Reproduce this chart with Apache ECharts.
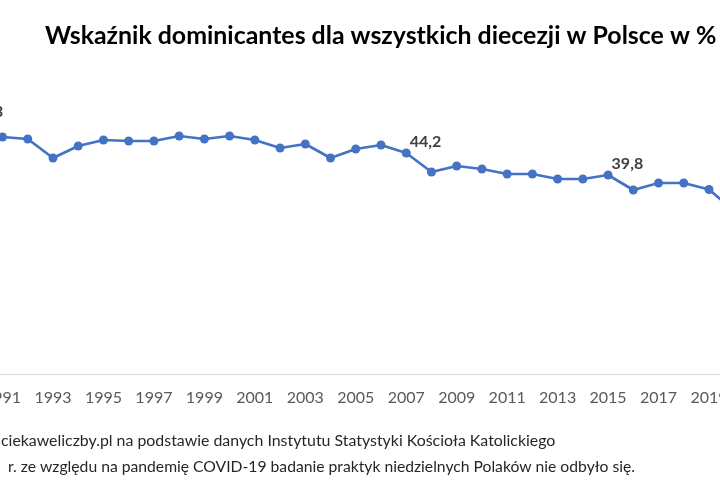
<!DOCTYPE html>
<html><head><meta charset="utf-8">
<script src="https://cdn.jsdelivr.net/npm/echarts@6/dist/echarts.min.js"></script>
<style>html,body{margin:0;padding:0;background:#fff;overflow:hidden;width:720px;height:500px;position:relative}#c{position:absolute;left:-100px;top:0;width:1000px;height:500px}</style>
</head><body><div id="c"></div>
<script>
var years = ['1990','1991','1992','1993','1994','1995','1996','1997','1998','1999','2000','2001','2002','2003','2004','2005','2006','2007','2008','2009','2010','2011','2012','2013','2014','2015','2016','2017','2018','2019','2020','2021','2022'];
var values = [50.3,47.4,47.0,43.2,45.6,46.8,46.6,46.6,47.6,47.0,47.6,46.8,45.2,46.0,43.2,45.0,45.8,44.2,40.4,41.6,41.0,40.0,40.0,39.0,39.0,39.8,36.8,38.2,38.2,36.9,null,28.3,29.5];
var labeledYears = ['1990','2007','2015','2021','2022'];
var titleText = 'Wskaźnik dominicantes dla wszystkich diecezji w Polsce w %';
var note1 = 'ciekaweliczby.pl na podstawie danych Instytutu Statystyki Kościoła Katolickiego';
var note2 = 'r. ze względu na pandemię COVID-19 badanie praktyk niedzielnych Polaków nie odbyło się.';

var seriesData = values.map(function(v, i){
  var item = {value: v};
  if (labeledYears.indexOf(years[i]) >= 0) {
    item.label = {show: true};
    if (i === 0) item.label.offset = [-15, -11];
  }
  return item;
});

var OFF = 100; // container is shifted 100px left of the window
var chart = echarts.init(document.getElementById('c'));
chart.setOption({
  animation: false,
  title: {
    text: titleText, left: 40 + OFF, top: 18,
    textStyle: {fontFamily: 'Lato', fontWeight: 'bold', fontSize: 24.9, color: '#000'}
  },
  grid: {left: 77.3, right: 115.3, top: 74, bottom: 126, containLabel: false},
  xAxis: {
    type: 'category', data: years, boundaryGap: false,
    axisLine: {lineStyle: {color: '#d9d9d9', width: 1}},
    axisTick: {show: false},
    axisLabel: {
      interval: function(i, v){ return (+v) % 2 === 1; },
      color: '#595959', fontFamily: 'Lato', fontSize: 16, margin: 16
    }
  },
  yAxis: {type: 'value', min: 0, max: 60, show: false, splitLine: {show: false}},
  series: [{
    type: 'line', data: seriesData, connectNulls: true,
    symbol: 'circle', symbolSize: 9,
    itemStyle: {color: '#4472C4'},
    lineStyle: {color: '#4472C4', width: 2.7},
    label: {
      show: false, position: 'right', distance: 5, offset: [-6, -11],
      formatter: function(p){ return String(p.value).replace('.', ','); },
      fontFamily: 'Lato', fontWeight: 'bold', fontSize: 16, color: '#404040'
    }
  }],
  graphic: [
    {type: 'text', left: 1 + OFF, top: 433, style: {text: note1, font: '15.9px Lato', fill: '#262626'}},
    {type: 'text', left: 8 + OFF, top: 459, style: {text: note2, font: '15.7px Lato', fill: '#262626'}}
  ]
});
</script></body></html>
